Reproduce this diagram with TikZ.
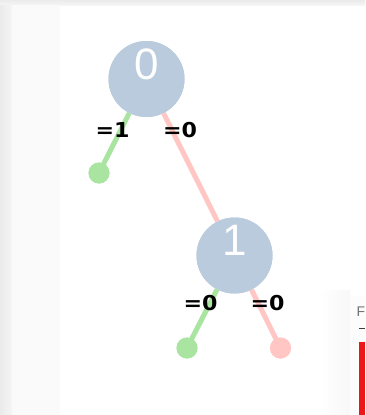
\documentclass[tikz,border=0pt]{standalone}
\usepackage{fontspec}
\setmainfont{Liberation Sans}
\newfontfamily\lblfont{DejaVu Sans}
\definecolor{nodefill}{HTML}{B9CBDC}
\definecolor{greenedge}{HTML}{A9E5A0}
\definecolor{pinkedge}{HTML}{FFC6C4}
\definecolor{panelred}{HTML}{EE1717}
\begin{document}
\begin{tikzpicture}[x=1pt,y=-1pt,
  treenode/.style={circle,fill=nodefill,minimum size=76pt,inner sep=0pt},
  nodenum/.style={text=white,font=\fontsize{44}{44}\selectfont,inner sep=0pt,anchor=base},
  leafg/.style={circle,fill=greenedge,minimum size=21pt,inner sep=0pt},
  leafp/.style={circle,fill=pinkedge,minimum size=21pt,inner sep=0pt},
  gedge/.style={draw=greenedge,line width=5pt},
  pedge/.style={draw=pinkedge,line width=5pt},
  lbl/.style={font=\lblfont\bfseries\fontsize{20.5}{20.5}\selectfont,inner sep=0pt,xscale=1.08}
]
\useasboundingbox (0,0) rectangle (365,415);
% background
\fill[white] (0,0) rectangle (365,415);
\shade[top color=black!8,bottom color=black!4] (0,0) rectangle (365,5);
\shade[left color=black!8,right color=black!4] (0,5) rectangle (12,415);
\fill[black!2] (12,5) rectangle (60,415);
% bottom-right panel
\shade[left color=white,right color=black!3] (320,290) rectangle (350,415);
\fill[black!1] (350,296) rectangle (365,415);
\node[anchor=west,inner sep=0pt,text=black!55,font=\fontsize{14}{14}\selectfont] (ftext) at (356.5,312) {F};
\draw[black!75,line width=1pt] (359,328) -- (365,328);
\fill[panelred] (359,342) rectangle (365,415);
% nodes
\node[treenode] (n0) at (146.5,79) {};
\node[treenode] (n1) at (234.5,255.5) {};
\node[leafg] (g0) at (99,173) {};
\node[leafg] (g1) at (187,348) {};
\node[leafp] (p1) at (280.5,348) {};
% edges
\draw[gedge] (g0.center) -- (n0);
\draw[pedge] (n0) -- (n1);
\draw[gedge] (g1.center) -- (n1);
\draw[pedge] (p1.center) -- (n1);
% redraw nodes on top
\node[treenode] at (n0) {};
\node[treenode] at (n1) {};
\node[leafg] at (g0) {};
\node[leafg] at (g1) {};
\node[leafp] at (p1) {};
\node[nodenum] (t0) at (n0.center) {0};
\node[nodenum] (t1) at (n1.center) {1};
% labels
\node[lbl] (l1) at (112.5,130) {=1};
\node[lbl] (l2) at (180,130) {=0};
\node[lbl] (l3) at (200.5,303) {=0};
\node[lbl] (l4) at (267.5,303) {=0};
\end{tikzpicture}
\end{document}
